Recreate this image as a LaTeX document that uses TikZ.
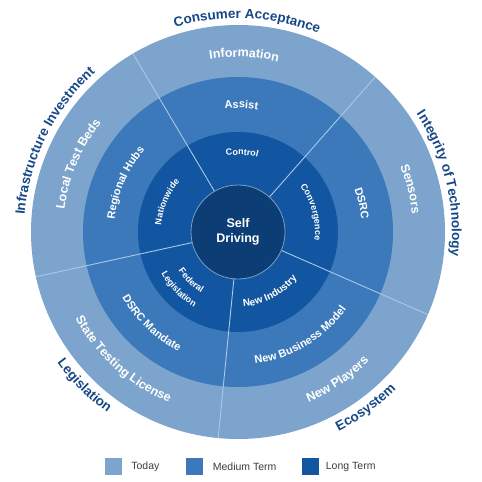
\documentclass[tikz,border=0pt]{standalone}
\usepackage{fontspec}
\setmainfont{Liberation Sans}
\usetikzlibrary{decorations.text,positioning}

\definecolor{today}{RGB}{125,164,205}
\definecolor{medium}{RGB}{60,121,187}
\definecolor{longterm}{RGB}{18,85,160}
\definecolor{core}{RGB}{12,61,117}
\definecolor{divider}{RGB}{170,200,232}
\definecolor{catblue}{RGB}{22,72,135}
\definecolor{legtext}{RGB}{60,60,60}

% text along an arc, centred on an angle: cw = tops outward, ccw = tops inward
\newcommand\cwtext[4]{\path[decorate,decoration={text along path,text align=center,text={|#3|#4}}]
  (#1+50:#2) arc[start angle=#1+50,end angle=#1-50,radius=#2];}
\newcommand\ccwtext[4]{\path[decorate,decoration={text along path,text align=center,text={|#3|#4}}]
  (#1-50:#2) arc[start angle=#1-50,end angle=#1+50,radius=#2];}
\newcommand\catfont{\color{catblue}\bfseries\fontsize{13.5}{15}\selectfont}
\newcommand\outfont{\color{white}\bfseries\fontsize{12.5}{14}\selectfont}
\newcommand\midfont{\color{white}\bfseries\fontsize{11}{13}\selectfont}
\newcommand\infont{\color{white}\bfseries\fontsize{9}{10}\selectfont}

\begin{document}
\begin{tikzpicture}[x=1pt,y=1pt,
  swatch/.style={minimum size=17pt,inner sep=0pt},
  legend/.style={font=\fontsize{10.5}{12}\selectfont,text=legtext,inner sep=1pt}]
  \useasboundingbox (-238,-250) rectangle (244,232);

  % rings
  \foreach \r/\c in {207/today,155/medium,100/longterm}
    \fill[\c] (0,0) circle (\r);
  \node[circle,fill=core,draw=divider!70!core,line width=0.8pt,minimum size=94pt,inner sep=0pt,
    align=center,text=white,font=\bfseries\fontsize{12.5}{15}\selectfont] (core) at (0,0) {Self\\Driving};

  % dividers
  \foreach \a in {120.5,48.5,-23.5,-95.5,-167.5}
    \draw[divider,line width=0.9pt] (core.\a) -- (\a:207);

  % outer themes
  \cwtext{87.5}{214}{\catfont}{Consumer Acceptance}
  \cwtext{13.5}{214}{\catfont}{Integrity of Technology}
  \ccwtext{-54}{223}{\catfont}{Ecosystem}
  \ccwtext{-135}{223}{\catfont}{Legislation}
  \cwtext{153.6}{214}{\catfont}{Infrastructure Investment}

  % today
  \cwtext{88}{175}{\outfont}{Information}
  \cwtext{14}{175}{\outfont}{Sensors}
  \ccwtext{-56}{184}{\outfont}{New Players}
  \ccwtext{-132}{184}{\outfont}{State Testing License}
  \cwtext{157}{175}{\outfont}{Local Test Beds}

  % medium term
  \cwtext{88.5}{124}{\midfont}{Assist}
  \cwtext{13}{124}{\midfont}{DSRC}
  \ccwtext{-59}{133}{\midfont}{New Business Model}
  \ccwtext{-133.5}{133}{\midfont}{DSRC Mandate}
  \cwtext{156.5}{124}{\midfont}{Regional Hubs}

  % long term
  \cwtext{87}{77}{\infont}{Control}
  \cwtext{15}{77}{\infont}{Convergence}
  \ccwtext{-62}{75}{\infont\fontsize{10}{11}\selectfont}{New Industry}
  \ccwtext{-134}{71}{\infont}{Federal}
  \ccwtext{-136}{87}{\infont}{Legislation}
  \cwtext{157}{77}{\infont}{Nationwide}

  % legend
  \node[swatch,fill=today] (sw-today) at (-124.5,-234.5) {};
  \node[legend,right=8pt of sw-today] (lg-today) {Today};
  \node[swatch,fill=medium] (sw-medium) at (-43,-234.5) {};
  \node[legend,right=8pt of sw-medium] (lg-medium) {Medium Term};
  \node[swatch,fill=longterm] (sw-long) at (72,-234.5) {};
  \node[legend,right=6pt of sw-long] (lg-long) {Long Term};
\end{tikzpicture}
\end{document}
